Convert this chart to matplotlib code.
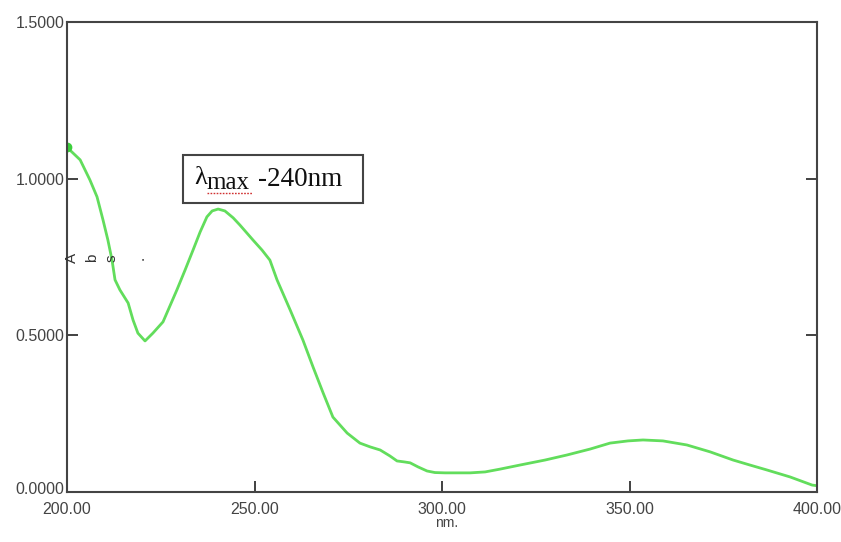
import numpy as np
import matplotlib
matplotlib.use("Agg")
import matplotlib.pyplot as plt
import matplotlib.transforms as mtransforms
from matplotlib.patches import Rectangle

# UV spectrum (wavelength nm, absorbance)
wavelength = [200.0, 203.5, 206.1, 208.0, 209.6, 210.9, 212.0, 212.8, 214.1,
              216.3, 217.6, 218.9, 220.8, 222.9, 225.6, 229.3, 231.5, 233.6,
              235.5, 237.3, 238.7, 240.3, 242.1, 244.3, 246.1, 249.6, 252.0,
              254.1, 256.0, 259.5, 262.9, 265.6, 268.3, 270.9, 274.7, 278.1,
              280.8, 283.5, 286.1, 288.0, 289.9, 291.5, 293.6, 296.0, 298.1,
              300.8, 307.5, 311.5, 315.5, 320.8, 327.5, 333.3, 339.5, 344.8,
              349.6, 353.6, 358.9, 365.3, 371.5, 377.6, 382.1, 386.7, 392.8,
              398.7, 400.0]
absorbance = [1.100, 1.060, 0.996, 0.942, 0.868, 0.804, 0.740, 0.677, 0.645,
              0.603, 0.549, 0.507, 0.482, 0.507, 0.543, 0.645, 0.709, 0.772,
              0.830, 0.878, 0.897, 0.903, 0.897, 0.875, 0.852, 0.804, 0.772,
              0.740, 0.677, 0.581, 0.485, 0.399, 0.316, 0.239, 0.188, 0.156,
              0.144, 0.134, 0.115, 0.099, 0.096, 0.093, 0.080, 0.067, 0.062,
              0.061, 0.061, 0.064, 0.073, 0.086, 0.102, 0.118, 0.137, 0.156,
              0.163, 0.166, 0.163, 0.150, 0.128, 0.102, 0.086, 0.070, 0.048,
              0.022, 0.020]

x_ticks = [200, 250, 300, 350, 400]
x_labels = ["200.00", "250.00", "300.00", "350.00", "400.00"]
y_ticks = [0.0, 0.5, 1.0, 1.5]
y_labels = ["0.0000", "0.5000", "1.0000", "1.5000"]

fig = plt.figure(figsize=(8.41, 5.42), dpi=100)
ax = fig.add_axes([0.0797, 0.0923, 0.8918, 0.8671])

green = "#62dd5c"
ax.plot(wavelength, absorbance, color=green, lw=2.0, solid_joinstyle="round")
ax.plot(wavelength[0], absorbance[0], "o", color="#3ccf3c", ms=6)

ax.set_xlim(200, 400)
ax.set_ylim(0, 1.5)
ax.set_xticks(x_ticks)
ax.set_xticklabels(x_labels)
ax.set_yticks(y_ticks)
ax.set_yticklabels(y_labels)
ax.tick_params(direction="in", length=8, width=1.3, color="#333333",
               labelsize=11.5, labelcolor="#444444", right=True, top=False)
ax.tick_params(axis="x", pad=7)
ax.tick_params(axis="y", pad=2)
for lab in ax.get_xticklabels() + ax.get_yticklabels():
    lab.set_family("Liberation Sans")
# lift the 0.0000 label a touch so it clears 200.00
y0 = ax.get_yticklabels()[0]
y0.set_transform(y0.get_transform() +
                 mtransforms.ScaledTranslation(0, 3 / 72, fig.dpi_scale_trans))
for s in ax.spines.values():
    s.set_color("#444444")
    s.set_linewidth(1.5)

# odd rotated "A b s ." axis label
for xf, ch in zip([0.007, 0.033, 0.060, 0.097], ["A", "b", "s", "."]):
    ax.text(xf, 0.747, ch, rotation=90, fontsize=11, color="#333333",
            family="Liberation Sans", ha="center", va="center",
            transform=ax.get_yaxis_transform())

ax.text(0.506, -0.052, "nm.", transform=ax.transAxes, ha="center", va="top",
        fontsize=10, color="#444444", family="Liberation Sans")

# annotation box
ax.add_patch(Rectangle((231.0, 0.922), 47.9, 0.153, fill=False,
                       edgecolor="#444444", lw=1.5, zorder=3))
ax.text(233.8, 1.003, "λ", fontsize=19, family="Liberation Serif",
        ha="left", va="center", color="#111111")
ax.text(237.2, 0.985, "max", fontsize=18, family="Liberation Serif",
        ha="left", va="center", color="#111111")
ax.text(251.0, 0.998, "-240nm", fontsize=19.5, family="Liberation Serif",
        ha="left", va="center", color="#111111")
ax.plot([237.2, 249.3], [0.955, 0.955], color="#d03030", lw=1.0,
        ls=(0, (1.2, 1)))

fig.savefig("out.png", dpi=100)
